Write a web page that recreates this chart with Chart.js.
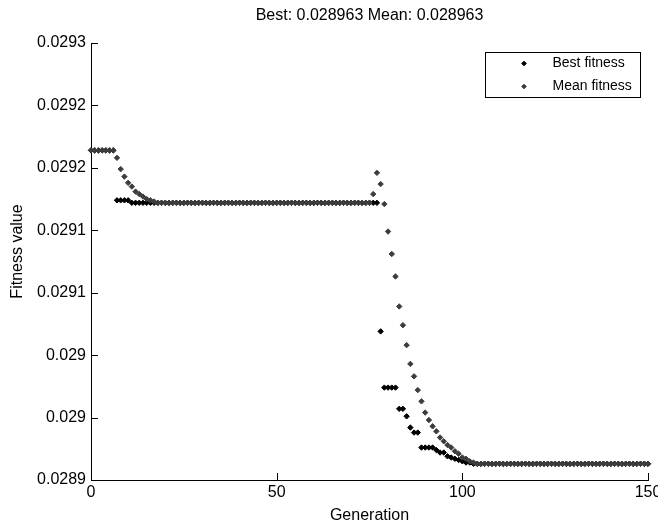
<!DOCTYPE html>
<html>
<head>
<meta charset="utf-8">
<script src="https://cdn.jsdelivr.net/npm/chart.js@4.4.1/dist/chart.umd.min.js"></script>
<style>
  html, body { margin: 0; padding: 0; background: #fff; }
  #wrap { width: 658px; height: 522px; }
</style>
</head>
<body>
<div id="wrap"><canvas id="gaChart" width="658" height="522"></canvas></div>
<script>
// generations 0..150
const generations = Array.from({ length: 151 }, (_, i) => i)

// best fitness per generation
const bestFitness = [
    0.029214, 0.029214, 0.029214, 0.029214, 0.029214, 0.029214, 0.029214,
    0.029174, 0.029174, 0.029174, 0.029174,
    0.029172, 0.029172, 0.029172, 0.029172, 0.029172, 0.029172, 0.029172, 0.029172, 0.029172, 0.029172,
    0.029172, 0.029172, 0.029172, 0.029172, 0.029172, 0.029172, 0.029172, 0.029172, 0.029172, 0.029172,
    0.029172, 0.029172, 0.029172, 0.029172, 0.029172, 0.029172, 0.029172, 0.029172, 0.029172, 0.029172,
    0.029172, 0.029172, 0.029172, 0.029172, 0.029172, 0.029172, 0.029172, 0.029172, 0.029172, 0.029172,
    0.029172, 0.029172, 0.029172, 0.029172, 0.029172, 0.029172, 0.029172, 0.029172, 0.029172, 0.029172,
    0.029172, 0.029172, 0.029172, 0.029172, 0.029172, 0.029172, 0.029172, 0.029172, 0.029172, 0.029172,
    0.029172, 0.029172, 0.029172, 0.029172, 0.029172, 0.029172, 0.029172,
    0.029069,
    0.029024, 0.029024, 0.029024, 0.029024,
    0.029007, 0.029007,
    0.029001,
    0.028992,
    0.028988, 0.028988,
    0.028976, 0.028976, 0.028976, 0.028976,
    0.028974,
    0.028972, 0.028972,
    0.028969, 0.028968, 0.028967, 0.028966, 0.028965,
    0.028964, 0.028964,
    0.028963, 0.028963, 0.028963, 0.028963, 0.028963, 0.028963, 0.028963, 0.028963, 0.028963, 0.028963,
    0.028963, 0.028963, 0.028963, 0.028963, 0.028963, 0.028963, 0.028963, 0.028963, 0.028963, 0.028963,
    0.028963, 0.028963, 0.028963, 0.028963, 0.028963, 0.028963, 0.028963, 0.028963, 0.028963, 0.028963,
    0.028963, 0.028963, 0.028963, 0.028963, 0.028963, 0.028963, 0.028963, 0.028963, 0.028963, 0.028963,
    0.028963, 0.028963, 0.028963, 0.028963, 0.028963, 0.028963, 0.028963, 0.028963
]

// mean fitness per generation
const meanFitness = [
    0.029214, 0.029214, 0.029214, 0.029214, 0.029214, 0.029214, 0.029214,
    0.029208, 0.029199, 0.029193, 0.029188, 0.029185, 0.029181, 0.029179, 0.029177, 0.029175, 0.029174, 0.029173,
    0.029172, 0.029172, 0.029172, 0.029172, 0.029172, 0.029172, 0.029172, 0.029172, 0.029172, 0.029172,
    0.029172, 0.029172, 0.029172, 0.029172, 0.029172, 0.029172, 0.029172, 0.029172, 0.029172, 0.029172,
    0.029172, 0.029172, 0.029172, 0.029172, 0.029172, 0.029172, 0.029172, 0.029172, 0.029172, 0.029172,
    0.029172, 0.029172, 0.029172, 0.029172, 0.029172, 0.029172, 0.029172, 0.029172, 0.029172, 0.029172,
    0.029172, 0.029172, 0.029172, 0.029172, 0.029172, 0.029172, 0.029172, 0.029172, 0.029172, 0.029172,
    0.029172, 0.029172, 0.029172, 0.029172, 0.029172, 0.029172, 0.029172, 0.029172,
    0.029179, 0.029196, 0.029187, 0.029171, 0.029149, 0.029131, 0.029113, 0.029089, 0.029074, 0.029058,
    0.029043, 0.029033, 0.029022, 0.029013, 0.029004, 0.028998, 0.028993, 0.028989, 0.028984, 0.028981,
    0.028978, 0.028976, 0.028973, 0.028971, 0.028968, 0.028967, 0.028965, 0.028964,
    0.028963, 0.028963, 0.028963, 0.028963, 0.028963, 0.028963, 0.028963, 0.028963, 0.028963, 0.028963,
    0.028963, 0.028963, 0.028963, 0.028963, 0.028963, 0.028963, 0.028963, 0.028963, 0.028963, 0.028963,
    0.028963, 0.028963, 0.028963, 0.028963, 0.028963, 0.028963, 0.028963, 0.028963, 0.028963, 0.028963,
    0.028963, 0.028963, 0.028963, 0.028963, 0.028963, 0.028963, 0.028963, 0.028963, 0.028963, 0.028963,
    0.028963, 0.028963, 0.028963, 0.028963, 0.028963, 0.028963, 0.028963
]

// axis ticks (labels as MATLAB printed them)
const xTickValues = [0, 50, 100, 150]
const yTickValues = [0.02895, 0.029, 0.02905, 0.0291, 0.02915, 0.0292, 0.02925, 0.0293]
const yTickLabels = ['0.0289', '0.029', '0.029', '0.0291', '0.0291', '0.0292', '0.0292', '0.0293']

const seriesNames = ['Best fitness', 'Mean fitness']
const titleText = 'Best: 0.028963 Mean: 0.028963'

const BEST_COLOR = '#000000'
const MEAN_COLOR = '#3c3c3c'

Chart.defaults.font.family = "'Liberation Sans', Arial, sans-serif"
Chart.defaults.color = '#000'

function diamond(ctx, x, y, r, color) {
    ctx.fillStyle = color
    ctx.strokeStyle = color
    ctx.beginPath()
    ctx.moveTo(x, y - r)
    ctx.lineTo(x + r, y)
    ctx.lineTo(x, y + r)
    ctx.lineTo(x - r, y)
    ctx.closePath()
    ctx.fill()
    ctx.stroke()
}

// inward ticks, rotated y label and boxed legend, matlab style
const matlabDecor = {
    id: 'matlabDecor',
    afterDraw(chart) {
        const { ctx, chartArea: a, scales: { x, y } } = chart
        ctx.save()
        ctx.strokeStyle = '#000'
        ctx.lineWidth = 1
        ctx.beginPath()
        yTickValues.forEach(v => {
            const py = Math.round(y.getPixelForValue(v)) + 0.5
            ctx.moveTo(a.left, py)
            ctx.lineTo(a.left + 7, py)
        })
        xTickValues.forEach(v => {
            const px = Math.round(x.getPixelForValue(v)) + 0.5
            ctx.moveTo(px, a.bottom)
            ctx.lineTo(px, a.bottom - 7)
        })
        ctx.stroke()

        // y label
        ctx.save()
        ctx.translate(18, (a.top + a.bottom) / 2 - 10)
        ctx.rotate(-Math.PI / 2)
        ctx.font = "16px 'Liberation Sans', Arial, sans-serif"
        ctx.fillStyle = '#000'
        ctx.textAlign = 'center'
        ctx.textBaseline = 'middle'
        ctx.fillText('Fitness value', 0, 0)
        ctx.restore()

        // legend
        const bx = a.right - 162.5, by = a.top + 9.5, bw = 155, bh = 45
        ctx.fillStyle = '#fff'
        ctx.fillRect(bx, by, bw, bh)
        ctx.strokeRect(bx, by, bw, bh)
        ctx.font = "14px 'Liberation Sans', Arial, sans-serif"
        ctx.textAlign = 'left'
        ctx.textBaseline = 'middle'
        const colors = [BEST_COLOR, MEAN_COLOR]
        seriesNames.forEach((name, i) => {
            const ly = by + 11 + i * 23
            diamond(ctx, bx + 38.5, ly, 2.3, colors[i])
            ctx.fillStyle = '#000'
            ctx.fillText(name, bx + 67, ly)
        })
        ctx.restore()
    }
}

new Chart(document.querySelector('#gaChart'), {
    type: 'scatter',
    data: {
        datasets: [{
            label: seriesNames[0],
            data: bestFitness.map((v, i) => ({ x: generations[i], y: v })),
            pointStyle: 'rectRot',
            pointRadius: 2.7,
            borderWidth: 1,
            backgroundColor: BEST_COLOR,
            borderColor: BEST_COLOR,
            clip: false,
            order: 2
        }, {
            label: seriesNames[1],
            data: meanFitness.map((v, i) => ({ x: generations[i], y: v })),
            pointStyle: 'rectRot',
            pointRadius: 2.7,
            borderWidth: 1,
            backgroundColor: MEAN_COLOR,
            borderColor: MEAN_COLOR,
            clip: false,
            order: 1
        }]
    },
    options: {
        responsive: false,
        animation: false,
        layout: { padding: { left: 0, right: 10, top: 0, bottom: 0 } },
        scales: {
            x: {
                type: 'linear',
                min: 0,
                max: 150,
                grid: { display: false, drawTicks: false },
                border: { display: true, color: '#000', width: 1 },
                afterBuildTicks: s => { s.ticks = xTickValues.map(value => ({ value })) },
                ticks: { font: { size: 16 }, padding: 3, maxRotation: 0, autoSkip: false },
                title: {
                    display: true,
                    text: 'Generation',
                    font: { size: 16, lineHeight: 0.8 },
                    padding: { top: 0, bottom: 0 }
                },
                afterFit: s => {
                    s.height = 42
                    s.paddingLeft = 0
                    s.paddingRight = 0
                }
            },
            y: {
                type: 'linear',
                min: 0.02895,
                max: 0.0293,
                grid: { display: false, drawTicks: false },
                border: { display: true, color: '#000', width: 1 },
                afterBuildTicks: s => { s.ticks = yTickValues.map(value => ({ value })) },
                ticks: {
                    font: { size: 16 },
                    padding: 5,
                    autoSkip: false,
                    callback: (value, index) => yTickLabels[index]
                },
                afterFit: s => {
                    s.width = 91
                    s.paddingTop = 0
                    s.paddingBottom = 0
                }
            }
        },
        plugins: {
            legend: { display: false },
            tooltip: { enabled: false },
            title: {
                display: true,
                text: titleText,
                fullSize: false,
                font: { size: 16, weight: 'normal', lineHeight: 1.2 },
                padding: { top: 6, bottom: 17.8 }
            }
        }
    },
    plugins: [matlabDecor]
})
</script>
</body>
</html>
